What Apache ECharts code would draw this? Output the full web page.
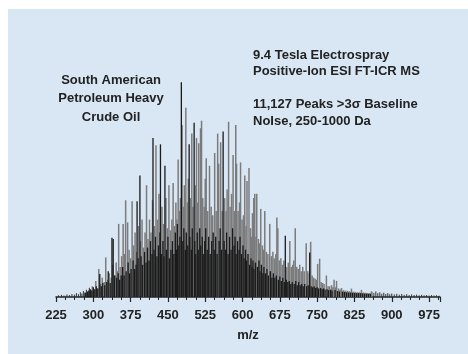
<!DOCTYPE html>
<html>
<head>
<meta charset="utf-8">
<script src="https://cdn.jsdelivr.net/npm/echarts@6/dist/echarts.min.js"></script>
<style>
  html,body{margin:0;padding:0;background:#fff;}
  #chart{width:468px;height:354px;}
</style>
</head>
<body>
<div id="chart"></div>
<script>
// m/z axis tick labels
const xTicks = [225, 300, 375, 450, 525, 600, 675, 750, 825, 900, 975]

// baseline noise ([m/z, relative intensity %])
const noisePeaks = [
  [230,0.8],[236,1.0],[241,0.7],[247,1.2],[252,0.9],[257,1.4],[262,1.1],[266,1.8],[270,1.3],[274,2.2],[277,1.6],[280,2.8],
  [283,2.0],[286,3.4],[289,2.4],[292,4.3],[295,3.0],
  [860,2.5],[864,1.9],[868,2.6],[872,1.8],[876,2.2],[880,1.5],[884,2.0],[888,1.4],[892,1.8],[896,1.3],[900,1.6],[905,1.2],
  [910,1.5],[915,1.1],[920,1.4],[925,1.0],[930,1.3],[935,0.9],[940,1.2],[945,0.9],[950,1.1],[955,0.8],[960,1.0],[965,0.8],
  [970,0.9],[975,0.7],[980,0.9],[985,0.7],[990,0.8],[995,0.6]
]

// grey peaks
const greyPeaks = [
  [298,5],[301,3.5],[305,7.5],[308,4],[311,13],[315,6],[318,9],[322,7],[325,18.4],[329,8],[332,11],[336,9],[339,15],
  [343,10],[346,16],[349,12],[351,34],[354,14],[357,19],[360,34],[363,20],[365,45],[369,34.7],[372,22],[375,18],[378,44.5],
  [381,24],[384,30],[387,21],[391,33],[395,26],[398,36],[401,23],[404,30],[407,52],[410,27],[413,36],[416,30],[419,45],
  [423,33],[426,70.6],[429,36],[432,48],[438,42],[441,34],[446,46],[449,32],[452,52],[455,31],[458,36],[460.5,53],[463,33],
  [466,44],[468,36],[470.6,64],[473,40],[475,46],[478.6,80],[481,42],[483,52],[486,88],[489,44],[491,55],[495,46],[498,76],
  [500,42],[505,52],[507.5,74],[510,44],[512,71.5],[515.6,78.5],[517.6,82],[520,46],[523,42],[525,55],[527,64.5],[530,40],
  [533.6,61],[537,42],[540,38],[544,67],[547,40],[550,76],[552,62],[556,72],[559,40],[564,46],[567,40],[569,50],[572,81.5],
  [575,42],[578,48],[581,66],[584,40],[586.4,80],[588,62],[591,40],[594,44],[596,62.6],[599,36],[602,38],[604.5,56.5],[607,33],
  [609,54],[613,60],[616,32],[618,28],[620,39],[622.6,46],[624.6,48],[627,28],[628.6,48],[632,27],[634,25],[636.6,41],[640,24],
  [642,22],[644.7,40],[648,21],[651,20],[654.7,34],[658,19],[661,21],[664,18],[667,20],[669,37],[671,32],[674,17],[677,18],
  [680,15],[683,17],[689,14],[692,16],[695,26],[698,14],[701,15],[703,17],[706,32],[709,14],[712,13],[715,15],[718,12],
  [721,14],[724,12],[728,25],[731,12],[734,11],[737,25.7],[740,10],[743,9],[746,8.5],[749,8],[751,15.4],[755,17.8],[758,7],
  [761,6.5],[764,6],[768.6,10],[772,5],[775,5],[779,5.5],[782,4.5],[784,8],[787,4.5],[789,7.5],[793,4],[796,3.5],[799,4.2],
  [803,3.2],[807,3],[811,2.9],[815,2.7],[819,3.9],[823,2.5],[827,2.4],[831,2.3],[835,2.2],[839,3.3],[843,2.1],[847,2],
  [851,1.9],[855,1.8],[859,2.5]
]

// black peaks
const blackPeaks = [
  [284,2],[288,2.6],[291,3],[294,3.6],[297,3],[300,4.5],[303,3.6],[306,5],[309,4],[313,10.7],[316,5],[319,6.5],[323,5.5],
  [327,7],[330,12],[334,6.5],[337.5,27.6],[340,27],[343,10],[347,9],[350,11],[353,8],[356,10],[359,14],[362,10],[366,12],
  [370,16],[373,11],[376,13],[380,17],[383,13],[386,15],[388,44.5],[390,18],[393.7,56.5],[396,19],[399,15],[403,21],[406,16],
  [409,23],[412,17],[415,26],[418,20],[420,74],[422,22],[425,28],[428,19],[431,24],[434,30],[435,71],[437,20],[440,26],
  [442,19],[444,61],[447,22],[450,28],[453,18],[456,22],[459,26],[462,20],[465,30],[467,22],[469,34],[472,24],[474,28],
  [477,99.9],[480,26],[482,32],[485,22],[487,30],[490,24],[492.7,71],[494,28],[497,22],[499,32],[502.7,81],[504,26],[506,20],
  [509,30],[511,22],[514,32],[516,24],[519,28],[521,20],[524,26],[526,32],[529,22],[532,28],[535,20],[538,26],[541,30],
  [543,22],[546,28],[549,20],[553,26],[555,32],[558,22],[561,77],[563,26],[566,22],[568,30],[571,20],[574,28],[577,22],
  [580,32],[583,24],[585,28],[587,20],[590,26],[593,22],[595,28],[598,20],[601,24],[603,18],[606,22],[608,17],[611,20],
  [614,15],[617,18],[619,14],[621,17],[623,13],[626,16],[630,14],[633,17],[635,12],[638,15],[641,11],[643,14],[646,11],
  [649,13],[652,10],[656,12],[659,9],[662,11],[665,9],[668,10],[672,8],[675,9.5],[678,7.5],[681,9],[684,7],[686,28.5],
  [688,8],[691,7],[694,7.5],[697,6],[700,7],[704,6],[707,7.5],[710,5.5],[713,7],[716,5.5],[719,6],[722,5],[725,6],[729,5],
  [732,5.5],[735,20.7],[738,5],[741,4.5],[744,5],[747,4.2],[750,4.5],[753,4],[757,4.2],[760,3.6],[763,4],[766,3.5],[770,3.6],
  [773,3.2],[777,3.4],[780,3],[786,3.2],[791,2.8],[795,2.6],[801,2.5],[805,2.4],[809,2.2],[813,2.1],[817,2.1],[821,2],
  [825,1.9],[829,1.8],[833,1.8],[837,1.8],[841,1.7],[845,1.6],[849,1.6],[853,1.5],[857,1.5]
]

const font = '"Liberation Sans", Arial, sans-serif'
const textColor = '#222'

// 每个峰画成一条竖线
function stick(color, width) {
  return function (params, api) {
    let p0 = api.coord([api.value(0), 0])
    let p1 = api.coord([api.value(0), api.value(1)])
    return {
      type: 'line',
      shape: { x1: p0[0], y1: p0[1], x2: p1[0], y2: p1[1] },
      style: { stroke: color, lineWidth: width }
    }
  }
}

let myChart = echarts.init(document.getElementById('chart'), null, { renderer: 'canvas' })
let option = {
  animation: false,
  grid: { left: 56, right: 28, top: 82, bottom: 57 },
  xAxis: {
    type: 'value',
    min: 225,
    max: 997,
    interval: 75,
    name: 'm/z',
    nameLocation: 'middle',
    nameGap: 32,
    nameTextStyle: { color: textColor, fontSize: 13, fontWeight: 'bold', fontFamily: font },
    axisLine: { show: true, lineStyle: { color: '#222', width: 1.5 } },
    axisTick: { show: true, length: 5, lineStyle: { color: '#222', width: 1.2 } },
    minorTick: { show: true, splitNumber: 4, length: 3, lineStyle: { color: '#222', width: 1 } },
    axisLabel: {
      margin: 12,
      color: textColor,
      fontSize: 13,
      fontWeight: 'bold',
      fontFamily: font,
      customValues: xTicks
    },
    splitLine: { show: false }
  },
  yAxis: { type: 'value', min: 0, max: 100, show: false, splitLine: { show: false } },
  graphic: [
    { type: 'rect', z: -10, silent: true, shape: { x: 8, y: 9, width: 460, height: 345 }, style: { fill: '#d9e7f5' } },
    {
      type: 'text', x: 111, y: 71, z: 10,
      style: {
        text: 'South American\nPetroleum Heavy\nCrude Oil',
        align: 'center', textAlign: 'center', lineHeight: 18.5,
        font: 'bold 13px ' + font, fill: textColor
      }
    },
    {
      type: 'text', x: 253, y: 47, z: 10,
      style: {
        text: '9.4 Tesla Electrospray\nPositive-Ion ESI FT-ICR MS\n\n11,127 Peaks >3\u03c3 Baseline\nNoIse, 250-1000 Da',
        lineHeight: 16.5,
        font: 'bold 13px ' + font, fill: textColor
      }
    }
  ],
  series: [
    { type: 'custom', name: 'noise', renderItem: stick('#333', 1), data: noisePeaks, z: 2 },
    { type: 'custom', name: 'grey', renderItem: stick('#7b7b7b', 1.5), data: greyPeaks, z: 3 },
    { type: 'custom', name: 'black', renderItem: stick('#1a1a1a', 1.3), data: blackPeaks, z: 4 }
  ]
}
myChart.setOption(option)
</script>
</body>
</html>
